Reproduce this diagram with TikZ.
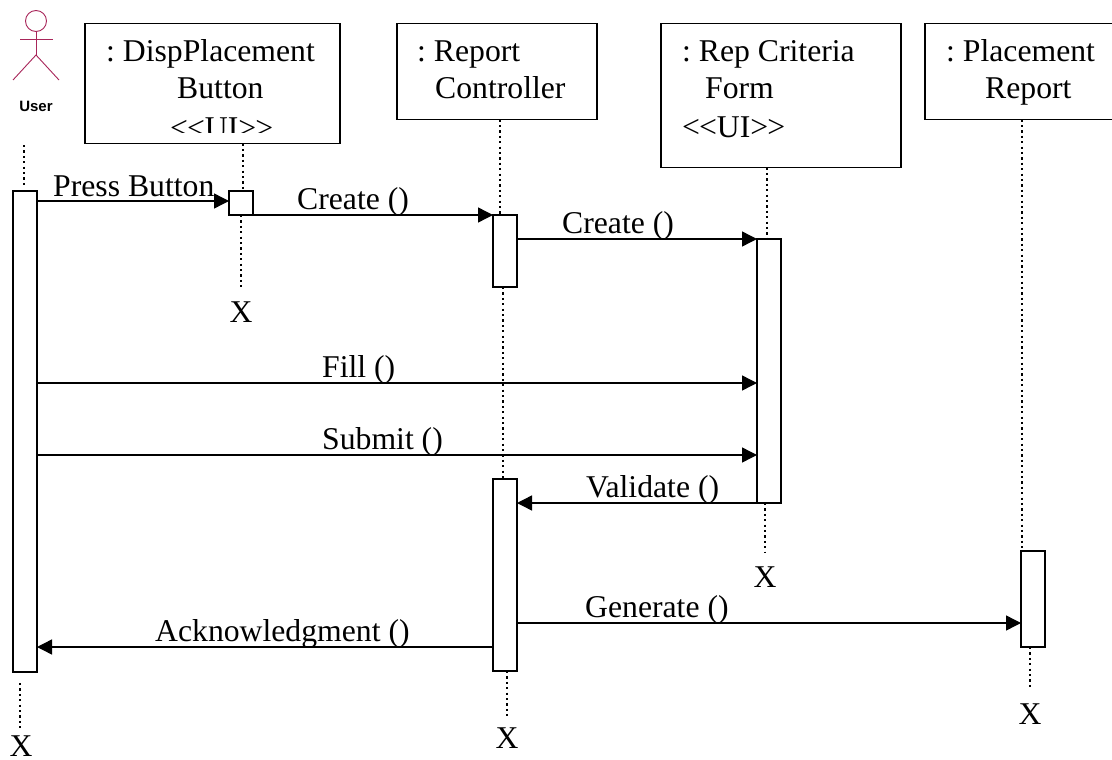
\documentclass[tikz,border=0pt]{standalone}
\usepackage{fontspec}
\setmainfont{Liberation Serif}
\newfontfamily\actorfont{Liberation Sans}
\usetikzlibrary{arrows.meta}
\frenchspacing
\tikzset{
  x=1pt,y=-1pt,
  objbox/.style={draw,line width=1.6pt,inner sep=0pt,outer sep=0pt,anchor=north west},
  bar/.style={draw,fill=white,line width=1.6pt,inner sep=0pt,outer sep=0pt,minimum width=24pt,anchor=north},
  msg/.style={line width=1.4pt,-{Triangle[length=15pt,width=15pt]}},
  life/.style={line width=1.7pt,dash pattern=on 2.2pt off 3.2pt},
  txt/.style={inner sep=0pt,anchor=base west,font=\fontsize{31.7}{36}\selectfont},
  act/.style={draw=actorc,line width=.9pt},
}
\definecolor{actorc}{HTML}{A8265A}
\newcommand{\uitag}{{<}\kern-1pt{<}UI{>}\kern-1pt{>}}
\begin{document}
\begin{tikzpicture}
\useasboundingbox (0,0) rectangle (1112,760);
% object boxes
\node[objbox,minimum width=255pt,minimum height=120pt] (bDisp) at (85,23.5) {};
\node[objbox,minimum width=200pt,minimum height=96pt] (bCtrl) at (397,23.5) {};
\node[objbox,minimum width=240pt,minimum height=144pt] (bForm) at (661,23.5) {};
\node[objbox,minimum width=190pt,minimum height=96pt] (bRep) at (925,23.5) {};
% box texts
\node[txt] (t1) at (106,62) {: DispPlacement};
\node[txt] (t2) at (177,99) {Button};
\begin{scope}
\clip (90,105) rectangle (330,132);
\node[txt] (t3) at (170,138) {\uitag};
\end{scope}
\node[txt] (t4) at (417,62) {: Report};
\node[txt] (t5) at (435,99) {Controller};
\node[txt] (t6) at (682,62) {: Rep Criteria};
\node[txt] (t7) at (705,99) {Form};
\node[txt] (t8) at (682,137) {\uitag};
\node[txt] (t9) at (946,62) {: Placement};
\node[txt] (t10) at (985,99) {Report};
% actor
\node[circle,act,minimum size=21pt,inner sep=0pt] (head) at (36,21) {};
\coordinate (hip) at (36,55);
\coordinate (armL) at (20,39);
\coordinate (armR) at (53,39);
\coordinate (legL) at (13,80);
\coordinate (legR) at (59,80);
\draw[act] (head.south) -- (hip);
\draw[act] (armL) -- (armR);
\draw[act] (legL) -- (hip) -- (legR);
\node[inner sep=0pt,font=\actorfont\bfseries\fontsize{15}{18}\selectfont] (user) at (36,106) {User};
% activation bars
\node[bar,minimum height=481pt] (aUser) at (25,191) {};
\node[bar,minimum height=24pt] (aDisp) at (241,191) {};
\node[bar,minimum height=72pt] (aCtrlA) at (505,215) {};
\node[bar,minimum height=192pt] (aCtrlB) at (505,479) {};
\node[bar,minimum height=264pt] (aForm) at (769,239) {};
\node[bar,minimum height=96pt] (aRep) at (1033,551) {};
% destroy marks
\node[txt,anchor=base] (xUser) at (21,756) {X};
\node[txt,anchor=base] (xDisp) at (241,322) {X};
\node[txt,anchor=base] (xCtrl) at (507,748) {X};
\node[txt,anchor=base] (xForm) at (765,587) {X};
\node[txt,anchor=base] (xRep) at (1030,724) {X};
% lifelines
\coordinate (u0) at (24,145); \coordinate (u1) at (24,188);
\coordinate (u2) at (20,683); \coordinate (u3) at (20,728);
\draw[life] (u0) -- (u1);
\draw[life] (u2) -- (u3);
\draw[life] (bDisp.south -| 243,0) -- (aDisp.north -| 243,0);
\draw[life] (aDisp.south -| 241,0) -- (xDisp.north |- 0,287);
\draw[life] (bCtrl.south -| 500,0) -- (aCtrlA.north -| 500,0);
\draw[life] (aCtrlA.south -| 503,0) -- (aCtrlB.north -| 503,0);
\draw[life] (aCtrlB.south -| 507,0) -- (xCtrl.north |- 0,716);
\draw[life] (bForm.south -| 767,0) -- (aForm.north -| 767,0);
\draw[life] (aForm.south -| 765,0) -- (xForm.north |- 0,552);
\draw[life] (bRep.south -| 1022,0) -- (aRep.north -| 1022,0);
\draw[life] (aRep.south -| 1030,0) -- (xRep.north |- 0,690);
% messages
\draw[msg] (aUser.east |- 0,201) -- (aDisp.west |- 0,201);
\draw[msg] (aDisp.east |- 0,215) -- (aCtrlA.west |- 0,215);
\draw[msg] (aCtrlA.east |- 0,239) -- (aForm.west |- 0,239);
\draw[msg] (aUser.east |- 0,383) -- (aForm.west |- 0,383);
\draw[msg] (aUser.east |- 0,455) -- (aForm.west |- 0,455);
\draw[msg] (aForm.east |- 0,503) -- (aCtrlB.east |- 0,503);
\draw[msg] (aCtrlB.east |- 0,623) -- (aRep.west |- 0,623);
\draw[msg] (aCtrlB.west |- 0,647) -- (aUser.east |- 0,647);
% labels
\node[txt] (m1) at (53,196) {Press Button};
\node[txt] (m2) at (297,209) {Create ()};
\node[txt] (m3) at (562,233) {Create ()};
\node[txt] (m4) at (322,377) {Fill ()};
\node[txt] (m5) at (322,449) {Submit ()};
\node[txt] (m6) at (586,497) {Validate ()};
\node[txt] (m7) at (585,617) {Generate ()};
\node[txt] (m8) at (155,641) {Acknowledgment ()};
\end{tikzpicture}
\end{document}
